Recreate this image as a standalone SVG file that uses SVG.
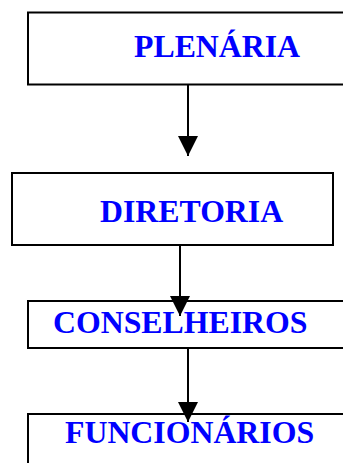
<svg xmlns="http://www.w3.org/2000/svg" width="343" height="463" viewBox="0 0 343 463">
  <style>
    .box { fill: #ffffff; stroke: #000000; stroke-width: 2; }
    .label { font-family: "Liberation Serif", "Times New Roman", serif; font-weight: bold; font-size: 31.8px; fill: #0000ff; }
    .link { stroke: #000000; stroke-width: 2; fill: none; }
  </style>
  <defs>
    <marker id="arrow" markerUnits="userSpaceOnUse" viewBox="0 0 20 20" refX="20" refY="10" markerWidth="20" markerHeight="20" orient="auto">
      <path d="M0,0 L20,10 L0,20 Z" fill="#000000"/>
    </marker>
  </defs>
  <rect width="343" height="463" fill="#ffffff"/>

  <g id="plenaria">
    <rect class="box" x="28" y="12.5" width="330" height="72"/>
    <text class="label" x="134" y="57">PLENÁRIA</text>
  </g>

  <g id="diretoria">
    <rect class="box" x="12" y="173" width="321" height="72"/>
    <text class="label" x="100" y="222">DIRETORIA</text>
  </g>

  <g id="conselheiros">
    <rect class="box" x="28" y="301" width="330" height="47"/>
    <text class="label" x="53" y="333">CONSELHEIROS</text>
  </g>

  <g id="funcionarios">
    <rect class="box" x="28" y="414" width="330" height="60"/>
    <text class="label" x="65" y="443">FUNCIONÁRIOS</text>
  </g>

  <g id="connectors">
    <line class="link" x1="188" y1="84.5" x2="188" y2="156" marker-end="url(#arrow)"/>
    <line class="link" x1="180" y1="245" x2="180" y2="316" marker-end="url(#arrow)"/>
    <line class="link" x1="188" y1="348" x2="188" y2="422" marker-end="url(#arrow)"/>
  </g>
</svg>
